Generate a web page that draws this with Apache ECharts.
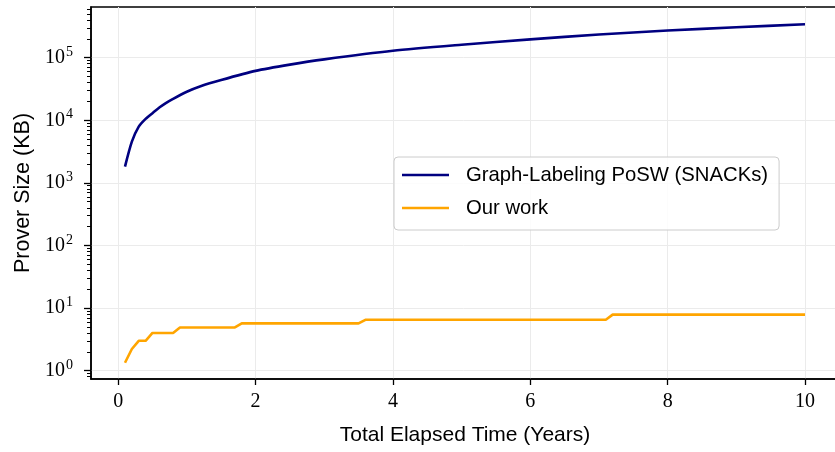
<!DOCTYPE html>
<html><head><meta charset="utf-8">
<script src="https://cdn.jsdelivr.net/npm/echarts@6/dist/echarts.min.js"></script>
<style>html,body{margin:0;padding:0;background:#fff}#c{width:835px;height:452px}</style>
</head><body><div id="c"></div><script>
// ---- data ----
const xTicks = [0, 2, 4, 6, 8, 10];
const yMajorTicks = [1, 10, 100, 1000, 10000, 100000];
const yMinorTicks = [0.8, 0.9,
  2, 3, 4, 5, 6, 7, 8, 9,
  20, 30, 40, 50, 60, 70, 80, 90,
  200, 300, 400, 500, 600, 700, 800, 900,
  2000, 3000, 4000, 5000, 6000, 7000, 8000, 9000,
  20000, 30000, 40000, 50000, 60000, 70000, 80000, 90000,
  200000, 300000, 400000, 500000, 600000];
const snacksYears = [0.1, 0.2, 0.3, 0.4, 0.5, 0.6, 0.7, 0.8, 1, 1.2, 1.5, 2, 2.5, 3, 4, 5, 6, 7, 8, 9, 10];
const snacksKB = [1820, 4550, 7900, 10500, 13000, 16000, 19000, 22000, 28600, 35000, 44000, 61500, 77500, 94000, 129000, 161000, 196000, 234000, 271000, 306000, 342000];
const oursYears = [0.1, 0.2, 0.3, 0.4, 0.5, 0.8, 0.9, 1.7, 1.8, 3.5, 3.6, 7.1, 7.2, 10];
const oursKB = [1.34, 2.22, 3, 3, 4, 4, 4.9, 4.9, 5.7, 5.7, 6.5, 6.5, 7.85, 7.85];
const seriesNames = ['Graph-Labeling PoSW (SNACKs)', 'Our work'];
const xTitle = 'Total Elapsed Time (Years)';
const yTitle = 'Prover Size (KB)';

const serif = 'Liberation Serif';
const sans = 'Liberation Sans';
const chart = echarts.init(document.getElementById('c'), null, {renderer: 'canvas'});
const yMin = 0.736, yMax = 645000;
chart.setOption({
  animation: false,
  backgroundColor: '#fff',
  grid: {left: 91, top: 7, width: 748, bottom: 73, show: true, borderColor: '#000', borderWidth: 1.5,
         containLabel: false, outerBoundsMode: 'none'},
  legend: {
    left: 394, top: 157, orient: 'vertical', icon: 'rect',
    padding: [6, 11, 10, 8], itemGap: 9, itemWidth: 47, itemHeight: 2.6,
    borderColor: '#cccccc', borderWidth: 1, borderRadius: 4,
    backgroundColor: 'rgba(255,255,255,0.85)',
    textStyle: {fontFamily: sans, fontSize: 20.3, color: '#000', lineHeight: 24, padding: [0, 0, 0, 12]},
    data: seriesNames
  },
  xAxis: {
    type: 'value', min: -0.395, max: 10.495,
    name: xTitle, nameLocation: 'middle', nameGap: 46,
    nameTextStyle: {fontFamily: sans, fontSize: 21, color: '#000'},
    axisLine: {show: true, onZero: false, lineStyle: {color: '#000', width: 1.5}},
    axisTick: {show: true, length: 6, lineStyle: {color: '#000', width: 1.3}, customValues: xTicks},
    axisLabel: {fontFamily: serif, fontSize: 20, color: '#000', margin: 13, customValues: xTicks, formatter: v => String(v)},
    splitLine: {show: true, lineStyle: {color: '#ebebeb', width: 1}}
  },
  yAxis: [{
    type: 'log', logBase: 10, min: yMin, max: yMax,
    name: yTitle, nameLocation: 'middle', nameGap: 57,
    nameTextStyle: {fontFamily: sans, fontSize: 21.5, color: '#000'},
    axisLine: {show: true, onZero: false, lineStyle: {color: '#000', width: 1.5}},
    axisTick: {show: true, length: 7, lineStyle: {color: '#000', width: 1.3}, customValues: yMajorTicks},
    axisLabel: {
      customValues: yMajorTicks, margin: 18, color: '#000',
      formatter: v => '{b|10}{s|' + Math.round(Math.log10(v)) + '}',
      rich: {
        b: {fontFamily: serif, fontSize: 20, color: '#000'},
        s: {fontFamily: serif, fontSize: 14, color: '#000', padding: [0, 0, 11, 1]}
      }
    },
    splitLine: {show: true, lineStyle: {color: '#ebebeb', width: 1}}
  }, {
    type: 'log', logBase: 10, min: yMin, max: yMax, position: 'left',
    axisLine: {show: false, onZero: false},
    axisTick: {show: true, length: 4, lineStyle: {color: '#000', width: 1}, customValues: yMinorTicks},
    axisLabel: {show: false, customValues: yMinorTicks},
    splitLine: {show: false}
  }],
  series: [{
    name: seriesNames[0], type: 'line', symbol: 'none', yAxisIndex: 0,
    smooth: 0.25,
    lineStyle: {color: '#000080', width: 2.6}, itemStyle: {color: '#000080'},
    data: snacksYears.map((t, i) => [t, snacksKB[i]])
  }, {
    name: seriesNames[1], type: 'line', symbol: 'none', yAxisIndex: 0,
    lineStyle: {color: '#FFA500', width: 2.6}, itemStyle: {color: '#FFA500'},
    data: oursYears.map((t, i) => [t, oursKB[i]])
  }]
});
</script></body></html>
